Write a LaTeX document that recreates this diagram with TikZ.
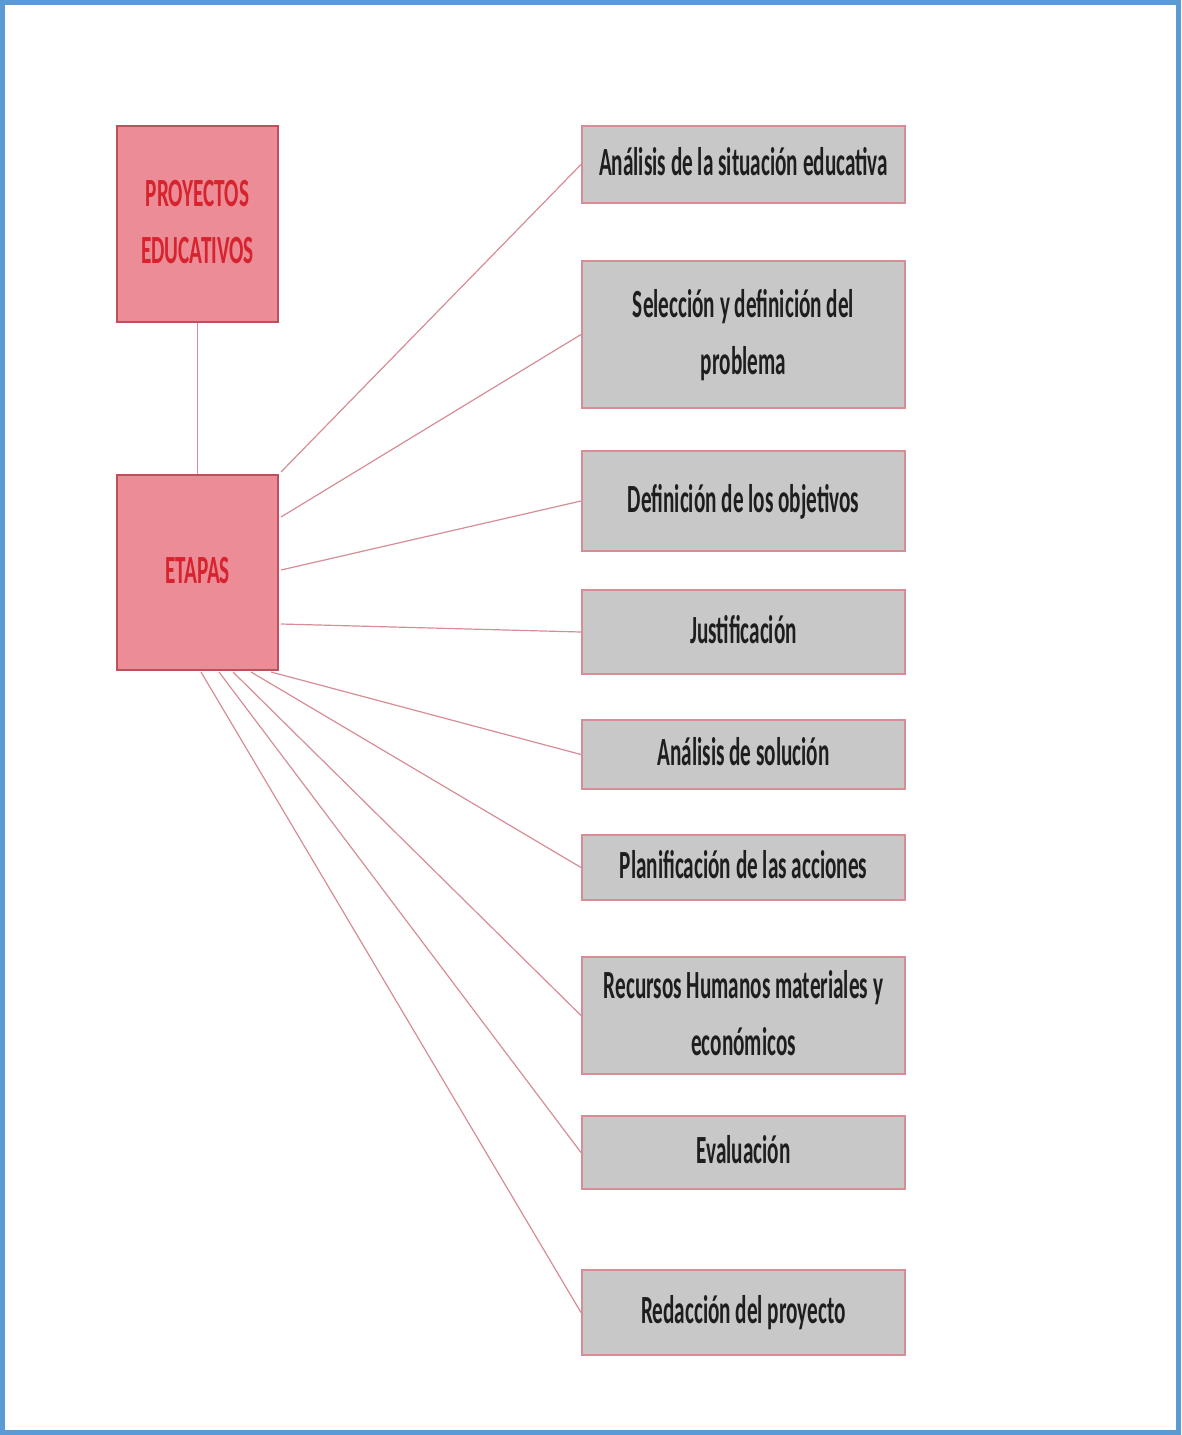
\documentclass[tikz,border=0pt]{standalone}
\usepackage{fontspec}
\setmainfont{Carlito}
\usepackage{graphicx}
\usetikzlibrary{calc}
\definecolor{frameblue}{RGB}{91,155,213}
\definecolor{pinkfill}{RGB}{235,140,150}
\definecolor{pinkdraw}{RGB}{190,80,92}
\definecolor{grayfill}{RGB}{200,200,200}
\definecolor{graydraw}{RGB}{215,140,150}
\definecolor{linkcol}{RGB}{215,140,150}
\definecolor{redtext}{RGB}{215,35,45}
\definecolor{darktext}{RGB}{30,30,30}
\newcommand\sqz[1]{\scalebox{0.53}[1]{\begin{tabular}{@{}c@{}}#1\end{tabular}}}
\tikzset{
  pinkbox/.style={draw=pinkdraw, line width=2pt, fill=pinkfill, minimum width=161pt, inner sep=0pt,
    text=redtext, font=\fontsize{40}{57}\selectfont\bfseries},
  graybox/.style={draw=graydraw, line width=2pt, fill=grayfill, minimum width=323pt, inner sep=0pt,
    text=darktext, font=\fontsize{40}{57}\selectfont\bfseries},
  link/.style={draw=linkcol, line width=1.2pt}
}
\begin{document}
\begin{tikzpicture}[x=1pt,y=-1pt]
\useasboundingbox (0,0) rectangle (1181,1435);
\draw[frameblue, line width=5pt] (2.5,2.5) rectangle (1178.5,1432.5);

\node[pinkbox, minimum height=196pt] (proy) at (197.5,224) {\sqz{PROYECTOS\\EDUCATIVOS}};
\node[pinkbox, minimum height=195pt] (et) at (197.5,572.5) {\sqz{ETAPAS}};

\node[graybox, minimum height=77pt]  (b1) at (743.5,164.5) {\sqz{Análisis de la situación educativa}};
\node[graybox, minimum height=147pt] (b2) at (743.5,334.5) {\sqz{Selección y definición del\\problema}};
\node[graybox, minimum height=100pt] (b3) at (743.5,501) {\sqz{Definición de los objetivos}};
\node[graybox, minimum height=84pt]  (b4) at (743.5,632) {\sqz{Justificación}};
\node[graybox, minimum height=69pt]  (b5) at (743.5,754.5) {\sqz{Análisis de solución}};
\node[graybox, minimum height=65pt]  (b6) at (743.5,867.5) {\sqz{Planificación de las acciones}};
\node[graybox, minimum height=117pt] (b7) at (743.5,1015.5) {\sqz{Recursos Humanos materiales y\\económicos}};
\node[graybox, minimum height=73pt]  (b8) at (743.5,1152.5) {\sqz{Evaluación}};
\node[graybox, minimum height=85pt]  (b9) at (743.5,1312.5) {\sqz{Redacción del proyecto}};

\draw[link] (proy.south) -- (et.north);

\coordinate (s1) at ($(et.north east)+(2,-2)$);
\coordinate (s2) at ($(et.north east)+(2,43)$);
\coordinate (s3) at ($(et.north east)+(2,96)$);
\coordinate (s4) at ($(et.north east)+(2,150)$);
\coordinate (s5) at ($(et.south east)+(-8,1)$);
\coordinate (s6) at ($(et.south east)+(-28,1)$);
\coordinate (s7) at ($(et.south east)+(-46,1)$);
\coordinate (s8) at ($(et.south east)+(-60,1)$);
\coordinate (s9) at ($(et.south east)+(-78,1)$);

\draw[link] (s1) -- (b1.west);
\draw[link] (s2) -- (b2.west);
\draw[link] (s3) -- (b3.west);
\draw[link] (s4) -- (b4.west);
\draw[link] (s5) -- (b5.west);
\draw[link] (s6) -- (b6.west);
\draw[link] (s7) -- (b7.west);
\draw[link] (s8) -- (b8.west);
\draw[link] (s9) -- (b9.west);
\end{tikzpicture}
\end{document}
